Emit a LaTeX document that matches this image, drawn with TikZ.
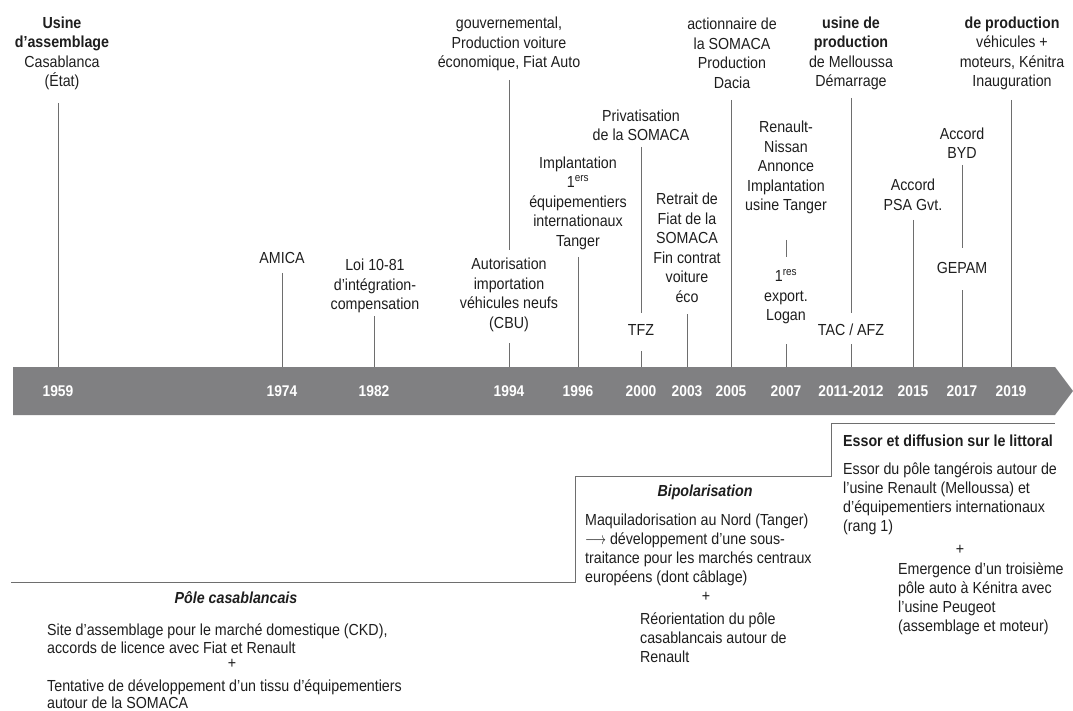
\documentclass[tikz,border=0pt]{standalone}
\usepackage{fontspec}
\setmainfont{Liberation Sans}[FakeStretch=0.89]
\definecolor{txt}{HTML}{1E1E1E}
\definecolor{linec}{HTML}{6E6E6E}
\definecolor{barc}{HTML}{808082}
\tikzset{
  lab/.style={align=center, font=\fontsize{16}{19.5}\selectfont, text=txt, inner sep=0pt},
  yr/.style={font=\bfseries\fontsize{15.5}{18}\selectfont, text=white, inner sep=0pt},
  tick/.style={draw=linec, line width=0.9pt},
  para/.style={align=left, font=\fontsize{16}{19}\selectfont, text=txt, inner sep=0pt, anchor=west},
  head/.style={font=\bfseries\itshape\fontsize{16}{19}\selectfont, text=txt, inner sep=0pt},
  plus/.style={font=\fontsize{16}{19}\selectfont, text=txt, inner sep=0pt}
}
\begin{document}
\begin{tikzpicture}[x=1pt,y=-1pt]
\useasboundingbox (0,0) rectangle (1073,711);
% timeline bar
\fill[barc] (13,367) -- (1055,367) -- (1073,391) -- (1055,415) -- (13,415) -- cycle;
% bar coordinates and years
\foreach \yy/\xx in {1959/58,1974/282,1982/374,1994/509,1996/578,2000/641,2003/687,2005/731,2007/786,2011/851,2015/913,2017/962,2019/1011}{
  \coordinate (b\yy) at (\xx,367);
}
\foreach \yy/\xx/\tt in {1959/58/1959,1974/282/1974,1982/374/1982,1994/509/1994,1996/578/1996,2000/641/2000,2003/687/2003,2005/731/2005,2007/786/2007,2011/851/2011-2012,2015/913/2015,2017/962/2017,2019/1011/2019}{
  \node[yr] (y\yy) at (\xx,391) {\tt};
}
% events
\node[lab] (e1959) at (62,53.5) {\textbf{Usine}\\\textbf{d’assemblage}\\Casablanca\\(État)};
\node[lab] (e1974) at (282,258) {AMICA};
\node[lab] (e1982) at (375,286) {Loi 10-81\\d’intégration-\\compensation};
\node[lab] (e1994a) at (509,44) {gouvernemental,\\Production voiture\\économique, Fiat Auto};
\node[lab] (e1994b) at (509,295) {Autorisation\\importation\\véhicules neufs\\(CBU)};
\node[lab] (e1996) at (578,203) {Implantation\\1\textsuperscript{ers}\\équipementiers\\internationaux\\Tanger};
\node[lab] (e2000a) at (641,125.5) {Privatisation\\de la SOMACA};
\node[lab] (e2000b) at (641,330) {TFZ};
\node[lab] (e2003) at (687,248) {Retrait de\\Fiat de la\\SOMACA\\Fin contrat\\voiture\\éco};
\node[lab] (e2005) at (732,53.5) {actionnaire de\\la SOMACA\\Production\\Dacia};
\node[lab] (e2007a) at (786,167.5) {Renault-\\Nissan\\Annonce\\Implantation\\usine Tanger};
\node[lab] (e2007b) at (786,297) {1\textsuperscript{res}\\export.\\Logan};
\node[lab] (e2011a) at (851,53.5) {\textbf{usine de}\\\textbf{production}\\de Melloussa\\Démarrage};
\node[lab] (e2011b) at (851,330) {TAC / AFZ};
\node[lab] (e2015) at (913,195) {Accord\\PSA Gvt.};
\node[lab] (e2017a) at (962,143) {Accord\\BYD};
\node[lab] (e2017b) at (962,268) {GEPAM};
\node[lab] (e2019) at (1012,53.5) {\textbf{de production}\\véhicules +\\moteurs, Kénitra\\Inauguration};
% ticks
\draw[tick] (b1959 |- 0,103) -- (b1959);
\draw[tick] (b1974 |- 0,273) -- (b1974);
\draw[tick] (b1982 |- 0,316) -- (b1982);
\draw[tick] (b1994 |- 0,80) -- (b1994 |- 0,250);
\draw[tick] (b1994 |- 0,343) -- (b1994);
\draw[tick] (b1996 |- 0,257) -- (b1996);
\draw[tick] (b2000 |- 0,147) -- (b2000 |- 0,313);
\draw[tick] (b2000 |- 0,351) -- (b2000);
\draw[tick] (b2003 |- 0,314) -- (b2003);
\draw[tick] (b2005 |- 0,100) -- (b2005);
\draw[tick] (b2007 |- 0,240) -- (b2007 |- 0,257);
\draw[tick] (b2007 |- 0,344) -- (b2007);
\draw[tick] (b2011 |- 0,98) -- (b2011 |- 0,313);
\draw[tick] (b2011 |- 0,344) -- (b2011);
\draw[tick] (b2015 |- 0,220) -- (b2015);
\draw[tick] (b2017 |- 0,165) -- (b2017 |- 0,248);
\draw[tick] (b2017 |- 0,290) -- (b2017);
\draw[tick] (b2019 |- 0,100) -- (b2019);
% step line
\coordinate (s0) at (11,582);
\coordinate (s1) at (575,582);
\coordinate (s2) at (575,476);
\coordinate (s3) at (831,476);
\coordinate (s4) at (831,423);
\coordinate (s5) at (1055,423);
\draw[tick] (s0) -- (s1) -- (s2) -- (s3) -- (s4) -- (s5);
% Pole casablancais
\node[head] (h1) at (236,598) {Pôle casablancais};
\node[para, font=\fontsize{16}{17.5}\selectfont] (p1a) at (47,638.5) {Site d’assemblage pour le marché domestique (CKD),\\accords de licence avec Fiat et Renault};
\node[plus] (p1p) at (232,664) {+};
\node[para, font=\fontsize{16}{17}\selectfont] (p1b) at (47,694) {Tentative de développement d’un tissu d’équipementiers\\autour de la SOMACA};
% Bipolarisation
\node[head] (h2) at (705,492) {Bipolarisation};
\node[para] (p2a) at (585,550) {Maquiladorisation au Nord (Tanger)\\\raisebox{0.5pt}{\scalebox{0.75}[1]{$\longrightarrow$}} développement d’une sous-\\traitance pour les marchés centraux\\européens (dont câblage)};
\node[plus] (p2p) at (706,597) {+};
\node[para] (p2b) at (640,637.5) {Réorientation du pôle\\casablancais autour de\\Renault};
% Essor
\node[head, font=\bfseries\fontsize{16}{19}\selectfont, anchor=west] (h3) at (843,441) {Essor et diffusion sur le littoral};
\node[para] (p3a) at (843,499) {Essor du pôle tangérois autour de\\l’usine Renault (Melloussa) et\\d’équipementiers internationaux\\(rang 1)};
\node[plus] (p3p) at (960,550) {+};
\node[para] (p3b) at (898,598.5) {Emergence d’un troisième\\pôle auto à Kénitra avec\\l’usine Peugeot\\(assemblage et moteur)};
\end{tikzpicture}
\end{document}
